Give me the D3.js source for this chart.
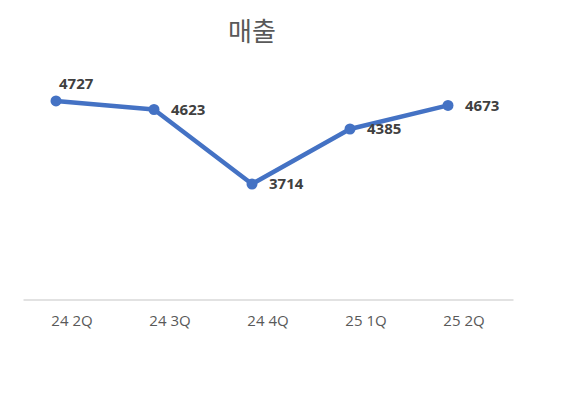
<!DOCTYPE html>
<html><head><meta charset="utf-8">
<script src="https://cdn.jsdelivr.net/npm/d3@7"></script>
<style>body{margin:0;background:#fff}svg{display:block}</style>
</head><body>
<script>
const categories = ["24 2Q","24 3Q","24 4Q","25 1Q","25 2Q"];
const values = [4727, 4623, 3714, 4385, 4673];
const labelPlacement = ["above","right","right","right","right"];
const title = "매출";

const W = 565, H = 397;
const svg = d3.select("body").append("svg").attr("width", W).attr("height", H);

const x = d3.scaleBand().domain(categories).range([23, 513]);
const pointOffset = -16;
const y = d3.scaleLinear().domain([3000, 5000]).range([242.5, 78.6]);

svg.append("text").attr("x", 252).attr("y", 41).attr("text-anchor", "middle")
  .attr("font-family", "Noto Sans CJK KR, sans-serif").attr("font-size", 26)
  .attr("fill", "#595959").text(title);

const axis = d3.axisBottom(x).tickSize(0).tickPadding(16);
const ag = svg.append("g").attr("transform", "translate(0,299.5)").call(axis);
ag.select(".domain").attr("stroke", "#d9d9d9").attr("stroke-width", 1.5);
ag.selectAll("text").attr("font-family", "Open Sans, sans-serif").attr("font-size", 15)
  .attr("fill", "#595959");

const px = (d, i) => x(categories[i]) + x.bandwidth() / 2 + pointOffset;

const line = d3.line().x((d, i) => px(d, i)).y(d => y(d));
svg.append("path").datum(values).attr("d", line).attr("fill", "none")
  .attr("stroke", "#4472C4").attr("stroke-width", 4.5).attr("stroke-linejoin", "round");

svg.selectAll("circle.pt").data(values).enter().append("circle")
  .attr("cx", (d, i) => px(d, i)).attr("cy", d => y(d)).attr("r", 5.5).attr("fill", "#4472C4");

svg.selectAll("text.lbl").data(values).enter().append("text")
  .attr("x", (d, i) => labelPlacement[i] === "above" ? px(d, i) + 3 : px(d, i) + 17)
  .attr("y", (d, i) => labelPlacement[i] === "above" ? y(d) - 12 : y(d) + 5.5)
  .attr("font-family", "Open Sans, sans-serif").attr("font-size", 15).attr("font-weight", "bold")
  .attr("fill", "#404040").text(d => d);
</script>
</body></html>
